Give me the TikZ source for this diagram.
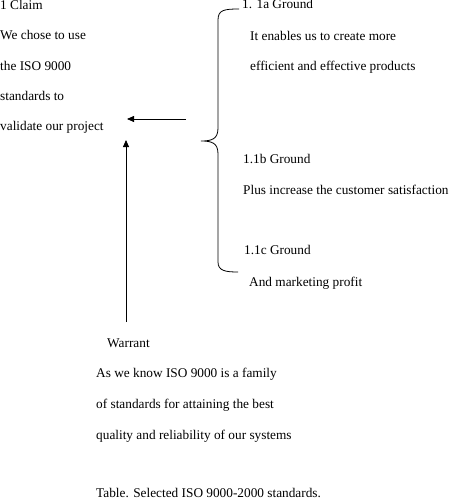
\documentclass[tikz,border=0pt]{standalone}
\usepackage{fontspec}
\setmainfont{Liberation Serif}
\usetikzlibrary{arrows.meta}
\begin{document}
\begin{tikzpicture}[x=1pt,y=-1pt,
  txt/.style={anchor=base west,inner sep=0pt,font=\fontsize{13.3}{16}\selectfont},
  conn/.style={line width=0.8pt,-{Triangle[length=7pt,width=6pt]}},
  brace/.style={line width=0.8pt}]
\useasboundingbox (0,0) rectangle (449,500);
% claim
\node[txt] (c0) at (0,10) {1 Claim};
\node[txt] (c1) at (0,40) {We chose to use};
\node[txt] (c2) at (0,71) {the ISO 9000};
\node[txt] (c3) at (0,101) {standards to};
\node[txt] (c4) at (0,131) {validate our project};
% grounds
\node[txt] (g1) at (242,9) {1. 1a Ground};
\node[txt] (g1a) at (250,41) {It enables us to create more};
\node[txt] (g1b) at (250,71) {efficient and effective products};
\node[txt] (g2) at (243,163) {1.1b Ground};
\node[txt] (g2a) at (243,194) {Plus increase the customer satisfaction};
\node[txt] (g3) at (244,254) {1.1c Ground};
\node[txt] (g3a) at (249,286) {And marketing profit};
% warrant
\node[txt] (w0) at (107,347) {Warrant};
\node[txt] (w1) at (96,377) {As we know ISO 9000 is a family};
\node[txt] (w2) at (96,408) {of standards for attaining the best};
\node[txt] (w3) at (96,439) {quality and reliability of our systems};
\node[txt] (tab) at (96,497) {Table. Selected ISO 9000-2000 standards.};
% brace
\coordinate (btop) at (239,9);
\coordinate (bcusp) at (201,141);
\coordinate (bbot) at (238,272);
\draw[brace] (btop) .. controls (224,9) and (218,10) .. (218,20)
  -- (218,128) .. controls (218,139) and (212,141) .. (bcusp)
  .. controls (212,141) and (218,143) .. (218,154)
  -- (218,262) .. controls (218,271) and (226,272) .. (bbot);
% arrows
\coordinate (hs) at (186,119);
\coordinate (he) at (127,119);
\draw[conn] (hs) -- (he);
\coordinate (vs) at (126,322);
\coordinate (ve) at (126,140);
\draw[conn] (vs) -- (ve);
\end{tikzpicture}
\end{document}
